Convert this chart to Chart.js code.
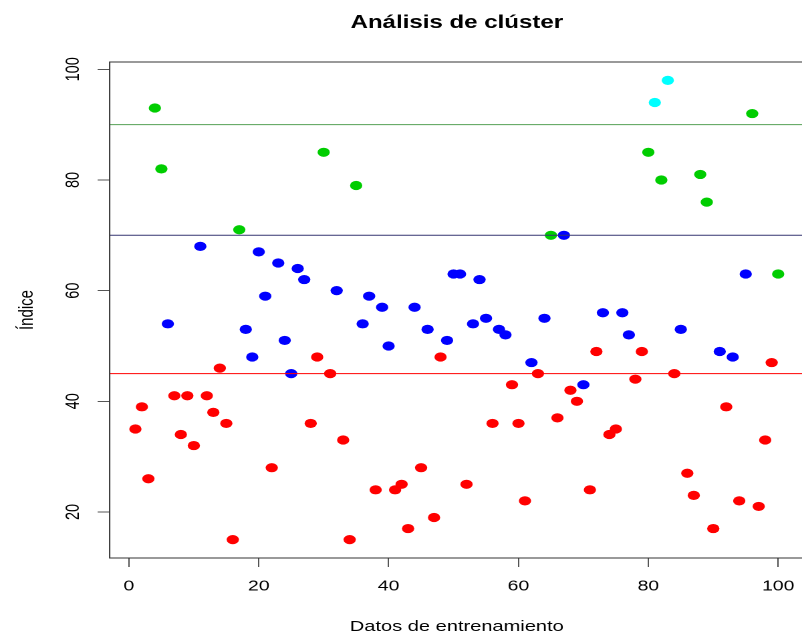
<!DOCTYPE html>
<html>
<head>
<meta charset="utf-8">
<script src="https://cdn.jsdelivr.net/npm/chart.js@4/dist/chart.umd.min.js"></script>
<style>
  html, body { margin: 0; padding: 0; background: #fff; overflow: hidden; }
  #wrap { position: absolute; left: 0; top: 0; width: 606px; height: 632px;
          transform: scaleX(1.3367); transform-origin: 0 0; }
  #c { display: block; }
</style>
</head>
<body>
<div id="wrap"><canvas id="c" width="606" height="632"></canvas></div>
<script>
// ---- data ----
const chartTitle = 'Análisis de clúster';
const xAxisTitle = 'Datos de entrenamiento';
const yAxisTitle = 'Índice';

const sampleIds = [
  1, 2, 3, 4, 5, 6, 7, 8, 9, 10,
  11, 12, 13, 14, 15, 16, 17, 18, 19, 20,
  21, 22, 23, 24, 25, 26, 27, 28, 29, 30,
  31, 32, 33, 34, 35, 36, 37, 38, 39, 40,
  41, 42, 43, 44, 45, 46, 47, 48, 49, 50,
  51, 52, 53, 54, 55, 56, 57, 58, 59, 60,
  61, 62, 63, 64, 65, 66, 67, 68, 69, 70,
  71, 72, 73, 74, 75, 76, 77, 78, 79, 80,
  81, 82, 83, 84, 85, 86, 87, 88, 89, 90,
  91, 92, 93, 94, 95, 96, 97, 98, 99, 100
];

const indexValues = [
  35, 39, 26, 93, 82, 54, 41, 34, 41, 32,
  68, 41, 38, 46, 36, 15, 71, 53, 48, 67,
  59, 28, 65, 51, 45, 64, 62, 36, 48, 85,
  45, 60, 33, 15, 79, 54, 59, 24, 57, 50,
  24, 25, 17, 57, 28, 53, 19, 48, 51, 63,
  63, 25, 54, 62, 55, 36, 53, 52, 43, 36,
  22, 47, 45, 55, 70, 37, 70, 42, 40, 43,
  24, 49, 56, 34, 35, 56, 52, 44, 49, 85,
  94, 80, 98, 45, 53, 27, 23, 81, 76, 17,
  49, 39, 48, 22, 63, 92, 21, 33, 47, 63
];

// 1 = red, 2 = blue, 3 = green, 4 = cyan
const clusterIds = [
  1, 1, 1, 3, 3, 2, 1, 1, 1, 1,
  2, 1, 1, 1, 1, 1, 3, 2, 2, 2,
  2, 1, 2, 2, 2, 2, 2, 1, 1, 3,
  1, 2, 1, 1, 3, 2, 2, 1, 2, 2,
  1, 1, 1, 2, 1, 2, 1, 1, 2, 2,
  2, 1, 2, 2, 2, 1, 2, 2, 1, 1,
  1, 2, 1, 2, 3, 1, 2, 1, 1, 2,
  1, 1, 2, 1, 1, 2, 2, 1, 1, 3,
  4, 3, 4, 1, 2, 1, 1, 3, 3, 1,
  2, 1, 2, 1, 2, 3, 1, 1, 1, 3
];

const thresholdValues = [90, 70, 45];
const xTickValues = [0, 20, 40, 60, 80, 100];
const yTickValues = [20, 40, 60, 80, 100];

// ---- styles ----
const clusterColors = { 1: '#ff0000', 2: '#0000ff', 3: '#00cd00', 4: '#00ffff' };
const thresholdColors = ['#55a055', '#343470', '#ff0000'];
const X_MIN = -2.96, X_MAX = 103.96;
const Y_MIN = 11.68, Y_MAX = 101.32;
const FONT = "'Liberation Sans', Arial, Helvetica, sans-serif";

Chart.defaults.font.family = FONT;
Chart.defaults.color = '#000';

const points = sampleIds.map((id, i) => ({ x: id, y: indexValues[i] }));
const pointColors = clusterIds.map(c => clusterColors[c]);

const lineDatasets = thresholdValues.map((t, k) => ({
  type: 'line',
  data: [{ x: X_MIN, y: t }, { x: X_MAX, y: t }],
  borderColor: thresholdColors[k],
  borderWidth: 1,
  pointRadius: 0,
  fill: false,
  tension: 0
}));

const boxPlugin = {
  id: 'box',
  afterDatasetsDraw(chart) {
    const { ctx, chartArea: a } = chart;
    ctx.save();
    ctx.strokeStyle = '#333';
    ctx.lineWidth = 1;
    ctx.strokeRect(a.left, a.top, a.right - a.left, a.bottom - a.top);
    ctx.restore();
  }
};

new Chart(document.getElementById('c'), {
  type: 'scatter',
  data: {
    datasets: [
      ...lineDatasets,
      {
        type: 'scatter',
        data: points,
        pointRadius: 4.6,
        pointHoverRadius: 4.6,
        pointBorderWidth: 0,
        pointBackgroundColor: pointColors,
        showLine: false
      }
    ]
  },
  options: {
    responsive: false,
    devicePixelRatio: 2,
    animation: false,
    events: [],
    layout: { padding: { left: 0, right: 1.64, top: 0, bottom: 0 } },
    plugins: {
      legend: { display: false },
      tooltip: { enabled: false },
      title: {
        display: true,
        text: chartTitle,
        fullSize: false,
        font: { size: 18, weight: 'bold', family: FONT },
        color: '#000',
        padding: { top: 12.2, bottom: 28.2 }
      }
    },
    scales: {
      x: {
        type: 'linear',
        min: X_MIN,
        max: X_MAX,
        afterFit(scale) { scale.height = 74; },
        afterBuildTicks(scale) { scale.ticks = xTickValues.map(v => ({ value: v })); },
        ticks: { font: { size: 14.5 }, padding: 11, color: '#000', maxRotation: 0 },
        grid: { drawOnChartArea: false, drawTicks: true, tickLength: 9, tickColor: '#555', tickWidth: 1 },
        border: { display: false },
        title: { display: true, text: xAxisTitle, font: { size: 15 }, color: '#000', padding: { top: 0, bottom: -4 } }
      },
      y: {
        type: 'linear',
        min: Y_MIN,
        max: Y_MAX,
        afterFit(scale) { scale.width = 82.05; },
        afterBuildTicks(scale) { scale.ticks = yTickValues.map(v => ({ value: v })); },
        ticks: { font: { size: 14.5 }, padding: 6, color: '#000', minRotation: 90, maxRotation: 90, crossAlign: 'center' },
        grid: { drawOnChartArea: false, drawTicks: true, tickLength: 9, tickColor: '#555', tickWidth: 1 },
        border: { display: false },
        title: { display: true, text: yAxisTitle, font: { size: 15 }, color: '#000', padding: { top: 11.2, bottom: 0 } }
      }
    }
  },
  plugins: [boxPlugin]
});
</script>
</body>
</html>
